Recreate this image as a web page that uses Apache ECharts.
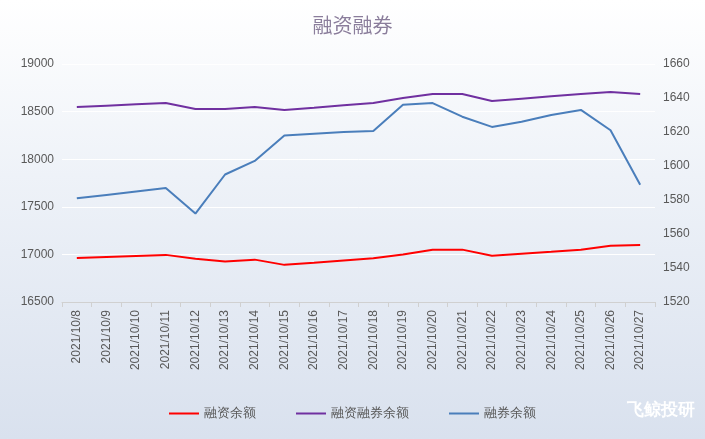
<!DOCTYPE html>
<html><head><meta charset="utf-8">
<script src="https://cdn.jsdelivr.net/npm/echarts@6/dist/echarts.min.js"></script>
<style>html,body{margin:0;padding:0}#c{width:705px;height:439px;background:linear-gradient(to bottom,#ffffff 0%,#eef2f8 40%,#d9e1ee 100%)}</style>
</head><body><div id="c"></div>
<script>
const categories=['2021/10/8','2021/10/9','2021/10/10','2021/10/11','2021/10/12','2021/10/13','2021/10/14','2021/10/15','2021/10/16','2021/10/17','2021/10/18','2021/10/19','2021/10/20','2021/10/21','2021/10/22','2021/10/23','2021/10/24','2021/10/25','2021/10/26','2021/10/27'];
const financing=[16962,16973,16984,16995,16955,16925,16945,16890,16913,16937,16960,17000,17050,17050,16985,17007,17028,17050,17090,17100];
const total=[18548,18562,18576,18590,18527,18527,18548,18517,18541,18566,18590,18643,18685,18685,18611,18636,18660,18685,18706,18685];
const lending=[1581,1583,1585,1587,1572,1595,1603,1618,1619,1620,1620.6,1636,1637,1629,1623,1626,1630,1633,1621,1589];
const chart=echarts.init(document.getElementById('c'));
chart.setOption({
title:{text:'融资融券',left:'center',top:10,textStyle:{color:'#8a7d9b',fontSize:20,fontWeight:'normal',fontFamily:'Noto Sans CJK SC'}},
grid:{left:62,right:50,top:64,bottom:137},
legend:{bottom:14,itemWidth:30,itemHeight:2,icon:'rect',itemGap:40,textStyle:{color:'#595959',fontSize:13},data:['融资余额','融资融券余额','融券余额']},
xAxis:{type:'category',boundaryGap:true,data:categories,axisLine:{lineStyle:{color:'#d0d0d0'}},axisTick:{show:true,lineStyle:{color:'#d0d0d0'}},axisLabel:{rotate:90,color:'#595959',fontSize:12,interval:0}},
yAxis:[{type:'value',min:16500,max:19000,interval:500,axisLabel:{color:'#595959',fontSize:12,formatter:v=>String(v)},splitLine:{lineStyle:{color:'#ffffff'}},axisLine:{show:false}},
{type:'value',min:1520,max:1660,interval:20,axisLabel:{color:'#595959',fontSize:12,formatter:v=>String(v)},splitLine:{show:false},axisLine:{show:false}}],
series:[
{name:'融资余额',type:'line',data:financing,showSymbol:false,lineStyle:{color:'#ff0000',width:2},itemStyle:{color:'#ff0000'}},
{name:'融资融券余额',type:'line',data:total,showSymbol:false,lineStyle:{color:'#7030a0',width:2},itemStyle:{color:'#7030a0'}},
{name:'融券余额',type:'line',yAxisIndex:1,data:lending,showSymbol:false,lineStyle:{color:'#4a7ebb',width:2},itemStyle:{color:'#4a7ebb'}}
],
graphic:[{type:'text',right:10,bottom:20,style:{text:'飞鲸投研',fill:'#ffffff',fontSize:17,fontWeight:'bold',shadowColor:'rgba(0,0,0,0.5)',shadowBlur:3}}]
});
</script></body></html>
